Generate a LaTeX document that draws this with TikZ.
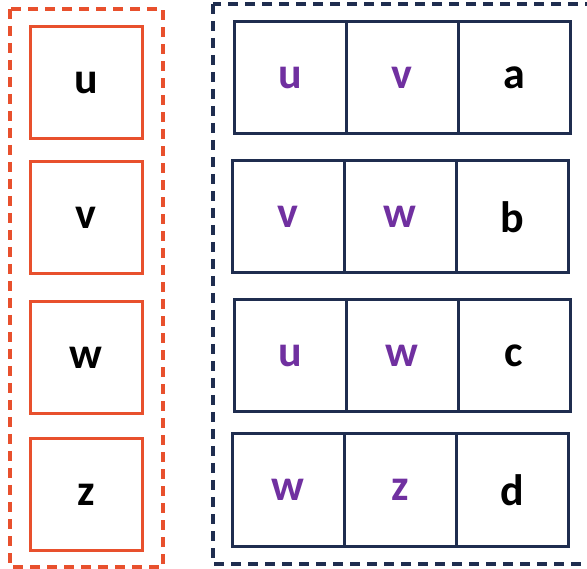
\documentclass[tikz,border=0pt]{standalone}
\usepackage{fontspec}
\setmainfont{Carlito}
\definecolor{keyred}{HTML}{E8502D}
\definecolor{edgenavy}{HTML}{1F2D4F}
\definecolor{varpurple}{HTML}{7030A0}
\tikzset{
  vertexbox/.style={draw=keyred, line width=3pt, minimum size=112pt, inner sep=0pt,
    font=\fontsize{44}{44}\selectfont\bfseries},
  cellbox/.style={draw=edgenavy, line width=3pt, minimum size=112pt, inner sep=0pt,
    font=\fontsize{44}{44}\selectfont\bfseries},
  endpt/.style={cellbox, text=varpurple},
  groupline/.style={line width=3.2pt, dash pattern=on 10pt off 7pt},
}
\begin{document}
\begin{tikzpicture}[x=1pt,y=-1pt]
    \useasboundingbox (0,0) rectangle (587,569);
    % vertex set
    \draw [keyred, groupline] (10,9) rectangle (163,567);
    \node [vertexbox] (vu) at (86,83) {u};
    \node [vertexbox] (vv) at (86,218) {v};
    \node [vertexbox] (vw) at (86,358) {w};
    \node [vertexbox] (vz) at (86,494.5) {z};
    % edge list
    \draw [edgenavy, groupline] (213,4) rectangle (592,564);
    \node [endpt] (ea1) at (290,78) {u};
    \node [endpt] (ea2) at (402,78) {v};
    \node [cellbox] (ea) at (514,78) {a};
    \node [endpt] (eb1) at (288,217) {v};
    \node [endpt] (eb2) at (400,217) {w};
    \node [cellbox] (eb) at (512,217) {b};
    \node [endpt] (ec1) at (290,356) {u};
    \node [endpt] (ec2) at (402,356) {w};
    \node [cellbox] (ec) at (514,356) {c};
    \node [endpt] (ed1) at (288,490) {w};
    \node [endpt] (ed2) at (400,490) {z};
    \node [cellbox] (ed) at (512,490) {d};
\end{tikzpicture}
\end{document}
